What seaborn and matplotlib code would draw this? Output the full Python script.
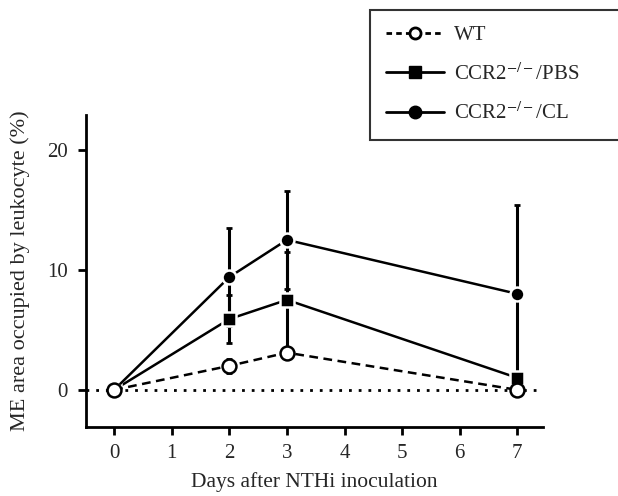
import pandas as pd
import matplotlib.pyplot as plt
import seaborn as sns

# values (mean and SD, % ME area)
days = [0, 2, 3, 7]
wt_mean = [0.0, 2.0, 3.1, 0.0]
wt_sd = [0.0, 0.6, 0.5, 0.3]
pbs_mean = [0.0, 5.9, 7.5, 1.0]
pbs_sd = [0.0, 2.0, 4.0, 0.5]
cl_mean = [0.0, 9.4, 12.5, 8.0]
cl_sd = [0.0, 4.1, 4.1, 7.4]

groups = ["WT", "CCR2$^{-/-}$/PBS", "CCR2$^{-/-}$/CL"]
x_ticks = [0, 1, 2, 3, 4, 5, 6, 7]
y_ticks = [0, 10, 20]

df = pd.DataFrame({
    "day": days * 3,
    "area": wt_mean + pbs_mean + cl_mean,
    "sd": wt_sd + pbs_sd + cl_sd,
    "group": [g for g in groups for _ in days],
})

sns.set_theme(style="ticks")
plt.rcParams["font.family"] = ["Liberation Serif", "DejaVu Serif"]
plt.rcParams["mathtext.fontset"] = "stix"

fig = plt.figure(figsize=(6.18, 4.96), dpi=100)
ax = fig.add_axes([0.139, 0.139, 0.740, 0.629])

# dotted zero line
ax.axhline(0, color="black", lw=2, ls=(0, (1, 2.5)), zorder=1)

# error bars (SD)
for g, z in zip(groups, [3, 4, 5]):
    sub = df[df["group"] == g]
    ax.errorbar(sub["day"], sub["area"], yerr=sub["sd"], fmt="none",
                ecolor="black", elinewidth=2.2, capsize=2.5, capthick=2, zorder=z)

palette = {g: "black" for g in groups}
markers = {groups[0]: "o", groups[1]: "s", groups[2]: "o"}
dashes = {groups[0]: (3.5, 2.2), groups[1]: "", groups[2]: ""}
sns.lineplot(data=df, x="day", y="area", hue="group", style="group",
             palette=palette, markers=markers, dashes=dashes,
             markersize=10, linewidth=1.8, markeredgewidth=1.8,
             ax=ax, legend=False, zorder=6)

# WT gets open circles, drawn on top
for ln in ax.lines:
    if ln.get_linestyle() == "--":
        ln.set_markerfacecolor("white")
        ln.set_markeredgecolor("black")
        ln.set_zorder(7)

ax.set_xlim(-0.49, 7.45)
ax.set_ylim(-3.1, 22.9)
ax.set_xticks(x_ticks)
ax.set_yticks(y_ticks)
ax.set_xlabel("Days after NTHi inoculation", fontsize=15.5, labelpad=7)
ax.set_ylabel("ME area occupied by leukocyte (%)", fontsize=16, labelpad=12)
ax.tick_params(labelsize=15, width=2, length=6, color="black")
ax.tick_params(axis="x", pad=6)
ax.tick_params(axis="y", pad=7)
sns.despine(ax=ax)
for s in ["left", "bottom"]:
    ax.spines[s].set_linewidth(2)
    ax.spines[s].set_color("black")

# legend box, runs off the right edge like the original
handles = [
    plt.Line2D([], [], color="black", ls=(0, (2, 1.5)), lw=2, marker="o",
               markersize=8, markerfacecolor="white", markeredgewidth=2),
    plt.Line2D([], [], color="black", lw=2, marker="s", markersize=9),
    plt.Line2D([], [], color="black", lw=2, marker="o", markersize=9),
]
leg = fig.legend(handles, groups, loc="upper left",
                 bbox_to_anchor=(0.599, 0.5, 0.45, 0.48), mode="expand",
                 fontsize=15, frameon=True, fancybox=False, handlelength=2.8,
                 handletextpad=0.45, labelspacing=0.85, borderpad=0.75,
                 borderaxespad=0)
leg.get_frame().set_edgecolor("black")
leg.get_frame().set_linewidth(1.5)

fig.savefig("out.png", dpi=100)
